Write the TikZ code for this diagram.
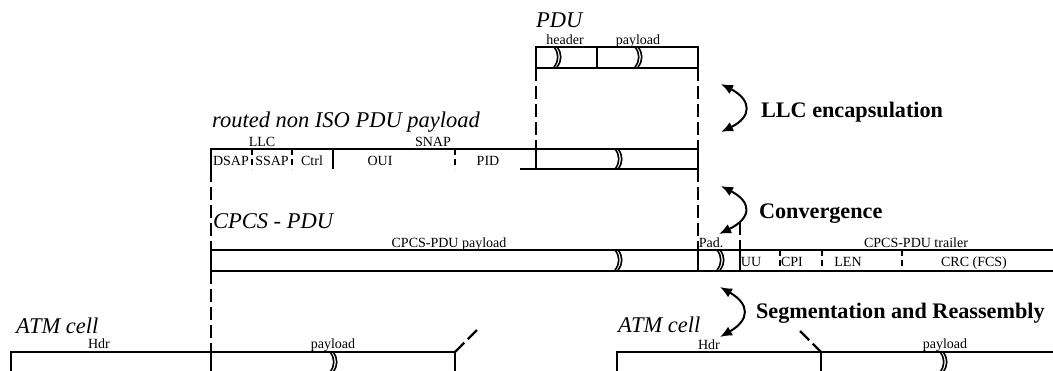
\documentclass[tikz,border=0pt]{standalone}
\usepackage{fontspec}
\setmainfont{Liberation Serif}
\usetikzlibrary{arrows.meta}

\begin{document}
\begin{tikzpicture}[
  x=1pt, y=-1pt,
  line width=2.2pt,
  frame/.style={draw, inner sep=0pt, outer sep=0pt, anchor=north west},
  hollow/.style={inner sep=0pt, outer sep=0pt, anchor=north west},
  tag/.style={font=\fontsize{14}{15}\selectfont, inner sep=0pt, anchor=base},
  title/.style={font=\fontsize{22.5}{24}\selectfont\itshape, inner sep=0pt, anchor=base west},
  layer/.style={font=\fontsize{22.2}{24}\selectfont\bfseries, inner sep=0pt, anchor=base west},
  guide/.style={dash pattern=on 13pt off 5pt},
  tick/.style={dash pattern=on 6pt off 4pt},
  swap/.style={{Latex[length=12pt,width=10pt]}-{Latex[length=12pt,width=10pt]}, line width=2pt},
  cut/.pic={
    \draw[line width=1.6pt] (-2,0) .. controls (3,6) and (3,14) .. (-2,20);
    \draw[line width=1.6pt] (1,0) .. controls (6,6) and (6,14) .. (1,20);
  }
  ]
  
  \useasboundingbox (0,0) rectangle (1053,370);
  \clip (0,0) rectangle (1053,370);
  
  % PDU
  \node[title] (pdut) at (535,27) {PDU};
  \node[frame, minimum width=162pt, minimum height=21pt] (pdu) at (536,47) {};
  \draw (597,47) -- (597,68);
  \pic at (556,47) {cut};
  \pic at (637,47) {cut};
  \node[tag] (pduhdr) at (565,44) {header};
  \node[tag] (pdupay) at (638,44) {payload};
  
  % routed non ISO PDU payload
  \node[title] (snapt) at (211,127) {routed non ISO PDU payload};
  \node[hollow, minimum width=487pt, minimum height=20pt] (snap) at (211,149) {};
  \coordinate (snapbot) at (520,169);
  \draw (snap.south west) |- (snap.north east) -- (snap.south east) -- (snapbot);
  \draw (333,149) -- (333,169);
  \draw (snap.north -| pdu.west) -- (snap.south -| pdu.west);
  \foreach \x in {252,292,455} \draw[tick] (\x,149) -- (\x,169);
  \pic at (617,149) {cut};
  \node[tag] (llc) at (262,146) {LLC};
  \node[tag] (snaplab) at (433,146) {SNAP};
  \node[tag] (dsap) at (231,165) {DSAP};
  \node[tag] (ssap) at (272,165) {SSAP};
  \node[tag] (ctrl) at (312,165) {Ctrl};
  \node[tag] (oui) at (380,165) {OUI};
  \node[tag] (pid) at (488,165) {PID};
  
  % CPCS - PDU
  \node[title] (cpcst) at (212,228) {CPCS - PDU};
  \node[frame, minimum width=900pt, minimum height=21pt] (cpcs) at (211,250) {};
  \draw (698,250) -- (698,271);
  \draw (740,250) -- (740,271);
  \foreach \x in {780,822,902} \draw[tick] (\x,250) -- (\x,271);
  \pic at (617,250) {cut};
  \pic at (719,250) {cut};
  \node[tag] (cpcspay) at (449,247) {CPCS-PDU payload};
  \node[tag] (pad) at (711,247) {Pad.};
  \node[tag] (trailer) at (916,247) {CPCS-PDU trailer};
  \node[tag] (uu) at (751,266) {UU};
  \node[tag] (cpi) at (792,266) {CPI};
  \node[tag] (len) at (848,266) {LEN};
  \node[tag] (crc) at (974,266) {CRC (FCS)};
  
  % ATM cells
  \node[title] (cellat) at (15,333) {ATM cell};
  \node[frame, minimum width=444pt, minimum height=40pt] (cella) at (11,352) {};
  \draw (211,352) -- (211,392);
  \pic at (332,352) {cut};
  \node[tag] (hdra) at (99,348) {Hdr};
  \node[tag] (paya) at (333,348) {payload};
  \coordinate (cuta) at (477,330);
  \draw[guide] (cuta) -- (cella.north east);
  
  \node[title] (cellbt) at (617,332) {ATM cell};
  \node[frame, minimum width=460pt, minimum height=40pt] (cellb) at (617,352) {};
  \coordinate (hdrend) at (821,352);
  \draw (hdrend) -- (821,392);
  \pic at (942,352) {cut};
  \node[tag] (hdrb) at (709,349) {Hdr};
  \node[tag] (payb) at (945,348) {payload};
  \coordinate (cutb) at (800,331);
  \draw[guide] (cutb) -- (hdrend);
  
  % guides between layers
  \draw[guide] (pdu.south west) -- (snap.north -| pdu.west);
  \draw[guide] (pdu.south east) -- (snap.north east);
  \draw[guide] (snap.south west) -- (cpcs.north west);
  \draw[guide] (snap.south east) -- (cpcs.north -| snap.east);
  \draw[guide] (cpcs.south west) -- (cella.north -| cpcs.west);
  \coordinate (trl) at (740,222);
  \draw[guide] (trl) -- (cpcs.north -| trl);
  
  % layers
  \coordinate (llca) at (721,84);
  \coordinate (llcb) at (721,132);
  \draw[swap] (llca) .. controls (752,100) and (752,117) .. (llcb);
  \node[layer] (llclab) at (760,117) {LLC encapsulation};
  
  \coordinate (cvga) at (721,186);
  \coordinate (cvgb) at (719,234);
  \draw[swap] (cvga) .. controls (752,202) and (752,218) .. (cvgb);
  \node[layer] (cvglab) at (758,218) {Convergence};
  
  \coordinate (sara) at (720,287);
  \coordinate (sarb) at (720,337);
  \draw[swap] (sara) .. controls (750,304) and (750,320) .. (sarb);
  \node[layer] (sarlab) at (755,318) {Segmentation and Reassembly};
  
\end{tikzpicture}
\end{document}
